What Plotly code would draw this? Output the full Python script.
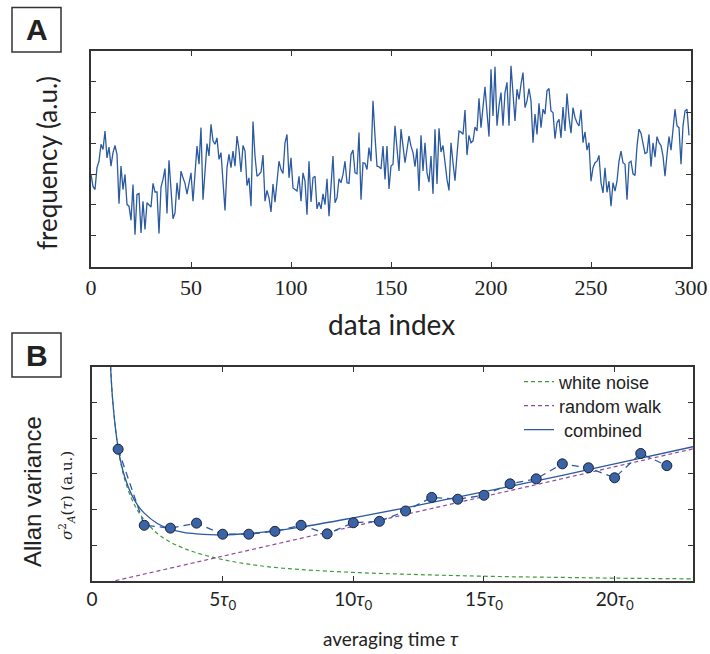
import plotly.graph_objects as go

# Panel A: raw frequency readings (arbitrary units), one per data index
freq = [
    2.99, 2.6, 2.5, 3.21, 3.42, 3.97, 3.80, 4.40, 3.53, 3.88,
    3.26, 3.70, 3.93, 3.64, 2.04, 3.26, 2.5, 2.99, 2.01, 1.96,
    1.5, 2.66, 1.03, 2.34, 2.37, 1.09, 2.12, 1.2, 2.07, 1.98,
    1.93, 2.7, 2.42, 2.42, 1.07, 2.58, 2.83, 3.18, 1.72, 3.45,
    2.61, 1.55, 1.74, 2.72, 2.17, 3.1, 2.88, 2.7, 2.35, 2.75,
    3.04, 2.12, 2.9, 3.91, 3.32, 4.51, 2.17, 2.99, 3.99, 3.59,
    4.62, 4.08, 3.97, 4.18, 3.48, 3.70, 2.61, 1.82, 3.21, 3.64,
    3.21, 3.75, 3.26, 4.24, 3.80, 3.07, 3.93, 3.75, 2.63, 2.88,
    1.96, 4.71, 3.59, 2.93, 2.99, 3.07, 3.62, 2.12, 2.47, 2.23,
    1.77, 2.68, 2.09, 2.77, 3.42, 3.15, 3.02, 4.02, 4.29, 2.88,
    3.53, 2.55, 2.5, 2.45, 2.93, 2.12, 3.04, 2.77, 1.68, 3.42,
    2.10, 2.88, 2.93, 1.87, 2.09, 1.87, 2.36, 2.01, 2.85, 1.63,
    2.61, 3.59, 2.07, 2.23, 2.85, 2.72, 2.99, 3.42, 2.72, 2.70,
    3.64, 3.78, 3.04, 3.01, 4.35, 2.17, 3.37, 3.35, 3.15, 3.86,
    3.42, 5.38, 4.24, 3.26, 3.24, 3.17, 3.91, 2.83, 3.91, 2.52,
    3.26, 3.32, 4.57, 3.91, 3.10, 4.46, 3.91, 3.37, 3.80, 4.24,
    3.91, 3.70, 3.24, 3.83, 2.45, 4.26, 3.10, 4.02, 3.04, 2.74,
    3.59, 2.36, 4.46, 2.68, 4.49, 3.72, 3.93, 3.32, 2.83, 2.47,
    4.02, 3.37, 2.79, 3.64, 4.40, 4.37, 4.29, 5.08, 3.62, 4.26,
    4.02, 4.08, 4.53, 4.40, 5.46, 4.51, 5.22, 5.84, 5.0, 4.22,
    6.41, 4.89, 6.49, 4.57, 5.22, 5.65, 4.57, 5.65, 5.98, 4.57,
    6.52, 5.54, 4.73, 5.76, 5.43, 5.92, 6.30, 5.16, 5.38, 5.78,
    5.38, 4.02, 4.95, 4.29, 5.30, 4.51, 5.11, 4.95, 5.71, 5.78,
    5.05, 5.0, 4.15, 4.67, 4.78, 4.18, 5.18, 4.40, 5.62, 4.84,
    4.33, 5.16, 4.84, 4.67, 4.57, 5.09, 4.02, 4.37, 3.78, 4.02,
    2.77, 3.21, 3.37, 3.42, 3.61, 2.72, 2.39, 3.21, 2.41, 2.77,
    1.96, 2.72, 2.45, 2.77, 3.42, 3.75, 3.37, 3.32, 2.17, 3.37,
    3.42, 3.01, 2.96, 3.91, 4.46, 4.33, 3.97, 3.67, 3.70, 4.29,
    3.24, 4.02, 3.55, 4.22, 4.02, 3.93, 3.59, 2.93, 3.64, 4.22,
    3.78, 4.57, 5.11, 4.57, 4.51, 3.32, 4.57, 5.05, 5.11, 4.26,
]
data_index = list(range(len(freq)))

# Panel B: measured Allan variance (in units of tau0)
tau_meas = [1, 2, 3, 4, 5, 6, 7, 8, 9, 10, 11, 12, 13, 14, 15, 16, 17, 18, 19, 20, 21, 22]
avar_meas = [3.69, 1.56, 1.48, 1.62, 1.31, 1.31, 1.39, 1.56, 1.32, 1.63, 1.67,
             1.96, 2.34, 2.29, 2.40, 2.72, 2.86, 3.28, 3.17, 2.89, 3.57, 3.23]

# model curves
tau_curve = [0.7, 0.75, 0.8, 0.9, 1.0, 1.1, 1.25, 1.5, 1.75, 2.0, 2.5, 3.0, 3.5,
             4.0, 5.0, 6.0, 7.0, 8.0, 10, 12, 14, 16, 18, 20, 23]
white_noise = [6.2, 5.5, 5.0, 4.25, 3.7, 3.3, 2.85, 2.33, 1.97, 1.71, 1.33, 1.09, 0.92,
               0.79, 0.60, 0.47, 0.38, 0.32, 0.24, 0.19, 0.15, 0.12, 0.10, 0.08, 0.06]
combined = [6.17, 5.48, 4.99, 4.26, 3.73, 3.34, 2.92, 2.44, 2.12, 1.90, 1.61, 1.45, 1.36,
            1.32, 1.29, 1.33, 1.41, 1.51, 1.77, 2.05, 2.35, 2.65, 2.96, 3.28, 3.76]
tau_rw = [0.9, 23]
random_walk = [0.01, 3.70]

tau_ticks = [0, 5, 10, 15, 20]
tau_labels = ['0', '5<i>τ</i><sub>0</sub>', '10<i>τ</i><sub>0</sub>',
              '15<i>τ</i><sub>0</sub>', '20<i>τ</i><sub>0</sub>']

W, H = 710, 654
BLUE = '#2c5aa0'
GREEN = '#3f9a3f'
PURPLE = '#8e4a9e'
FRAME = '#333333'
SERIF = 'Liberation Serif, DejaVu Serif, serif'


def px_x(p):
    return p / W


def px_y(p):
    return 1 - p / H


fig = go.Figure()

fig.add_trace(go.Scatter(
    x=data_index, y=freq, mode='lines',
    line=dict(color=BLUE, width=1.3),
    showlegend=False, xaxis='x', yaxis='y'
))

# each legend entry gets its own legend box so the row spacing can be matched
fig.add_trace(go.Scatter(
    x=tau_curve, y=white_noise, mode='lines', name='white noise', legend='legend',
    line=dict(color=GREEN, width=1.2, dash='4px,3px', shape='spline'),
    xaxis='x2', yaxis='y2'
))
fig.add_trace(go.Scatter(
    x=tau_rw, y=random_walk, mode='lines', name='random walk', legend='legend2',
    line=dict(color=PURPLE, width=1.2, dash='4px,3px'),
    xaxis='x2', yaxis='y2'
))
fig.add_trace(go.Scatter(
    x=tau_curve, y=combined, mode='lines', name='&nbsp;combined', legend='legend3',
    line=dict(color=BLUE, width=1.3, shape='spline'),
    xaxis='x2', yaxis='y2'
))
fig.add_trace(go.Scatter(
    x=tau_meas, y=avar_meas, mode='lines+markers',
    line=dict(color=BLUE, width=1.3, dash='7px,5px'),
    marker=dict(size=10, color='#3a63a8', line=dict(color='#1c2333', width=1)),
    showlegend=False, xaxis='x2', yaxis='y2'
))

axis_common = dict(
    showline=True, linecolor=FRAME, linewidth=1.6, mirror='ticks',
    ticks='inside', ticklen=5, tickcolor=FRAME, tickwidth=1.2,
    showgrid=False, zeroline=False, automargin=False,
)


def legend_row(yc):
    return dict(x=px_x(519), y=px_y(yc), xanchor='left', yanchor='middle',
                bgcolor='rgba(0,0,0,0)', font=dict(family='Liberation Sans', size=18),
                itemwidth=30, borderwidth=0)


fig.update_layout(
    width=W, height=H, autosize=False,
    margin=dict(l=0, r=0, t=0, b=0, pad=0, autoexpand=False),
    paper_bgcolor='white', plot_bgcolor='white',
    font=dict(family='Liberation Sans', color='#222222'),
    xaxis=dict(domain=[px_x(91), px_x(691)], range=[0, 300], tickvals=[0, 50, 100, 150, 200, 250, 300],
               tickfont=dict(family=SERIF, size=22), anchor='y', **axis_common),
    yaxis=dict(domain=[px_y(266.5), px_y(51)], range=[0, 7], tickvals=[1, 2, 3, 4, 5, 6],
               showticklabels=False, anchor='x', **axis_common),
    xaxis2=dict(domain=[px_x(92), px_x(693)], range=[0, 23], tickvals=tau_ticks, ticktext=tau_labels,
                tickfont=dict(family='Lato', size=19), anchor='y2', **axis_common),
    yaxis2=dict(domain=[px_y(581), px_y(366.7)], range=[0, 6], tickvals=[1, 2, 3, 4, 5],
                showticklabels=False, anchor='x2', **axis_common),
    legend=legend_row(382),
    legend2=legend_row(406),
    legend3=legend_row(430),
)

# axis titles and panel letters
annotations = [
    dict(text='data index', x=px_x(391), y=px_y(324), font=dict(family='Lato', size=28)),
    dict(text='averaging time <i>τ</i>', x=px_x(391), y=px_y(638), font=dict(family='Lato', size=19)),
    dict(text='frequency (a.u.)', x=px_x(47), y=px_y(163), textangle=-90,
         font=dict(family='Lato', size=26)),
    dict(text='Allan variance', x=px_x(32), y=px_y(492), textangle=-90,
         font=dict(family='Liberation Sans', size=24)),
    dict(text='<i>σ</i><sup>2</sup><sub><i>A</i></sub>(<i>τ</i>) (a.u.)', x=px_x(66), y=px_y(496),
         textangle=-90, font=dict(family='DejaVu Serif', size=15)),
    dict(text='<b>A</b>', x=px_x(36.5), y=px_y(30), font=dict(family='Liberation Sans', size=30)),
    dict(text='<b>B</b>', x=px_x(36.5), y=px_y(355), font=dict(family='Liberation Sans', size=30)),
]
for a in annotations:
    a.update(xref='paper', yref='paper', showarrow=False, xanchor='center', yanchor='middle')
fig.update_layout(annotations=annotations)

fig.update_layout(shapes=[
    dict(type='rect', xref='paper', yref='paper', x0=px_x(12), x1=px_x(61), y0=px_y(52), y1=px_y(7.5),
         line=dict(color=FRAME, width=1.5)),
    dict(type='rect', xref='paper', yref='paper', x0=px_x(12), x1=px_x(61), y0=px_y(377), y1=px_y(333),
         line=dict(color=FRAME, width=1.5)),
])

# drop the page margin so the figure sits at the window origin
fig.write_html("out.html", config={'responsive': False, 'displayModeBar': False},
               post_script="document.body.style.margin='0';document.body.style.overflow='hidden';")
